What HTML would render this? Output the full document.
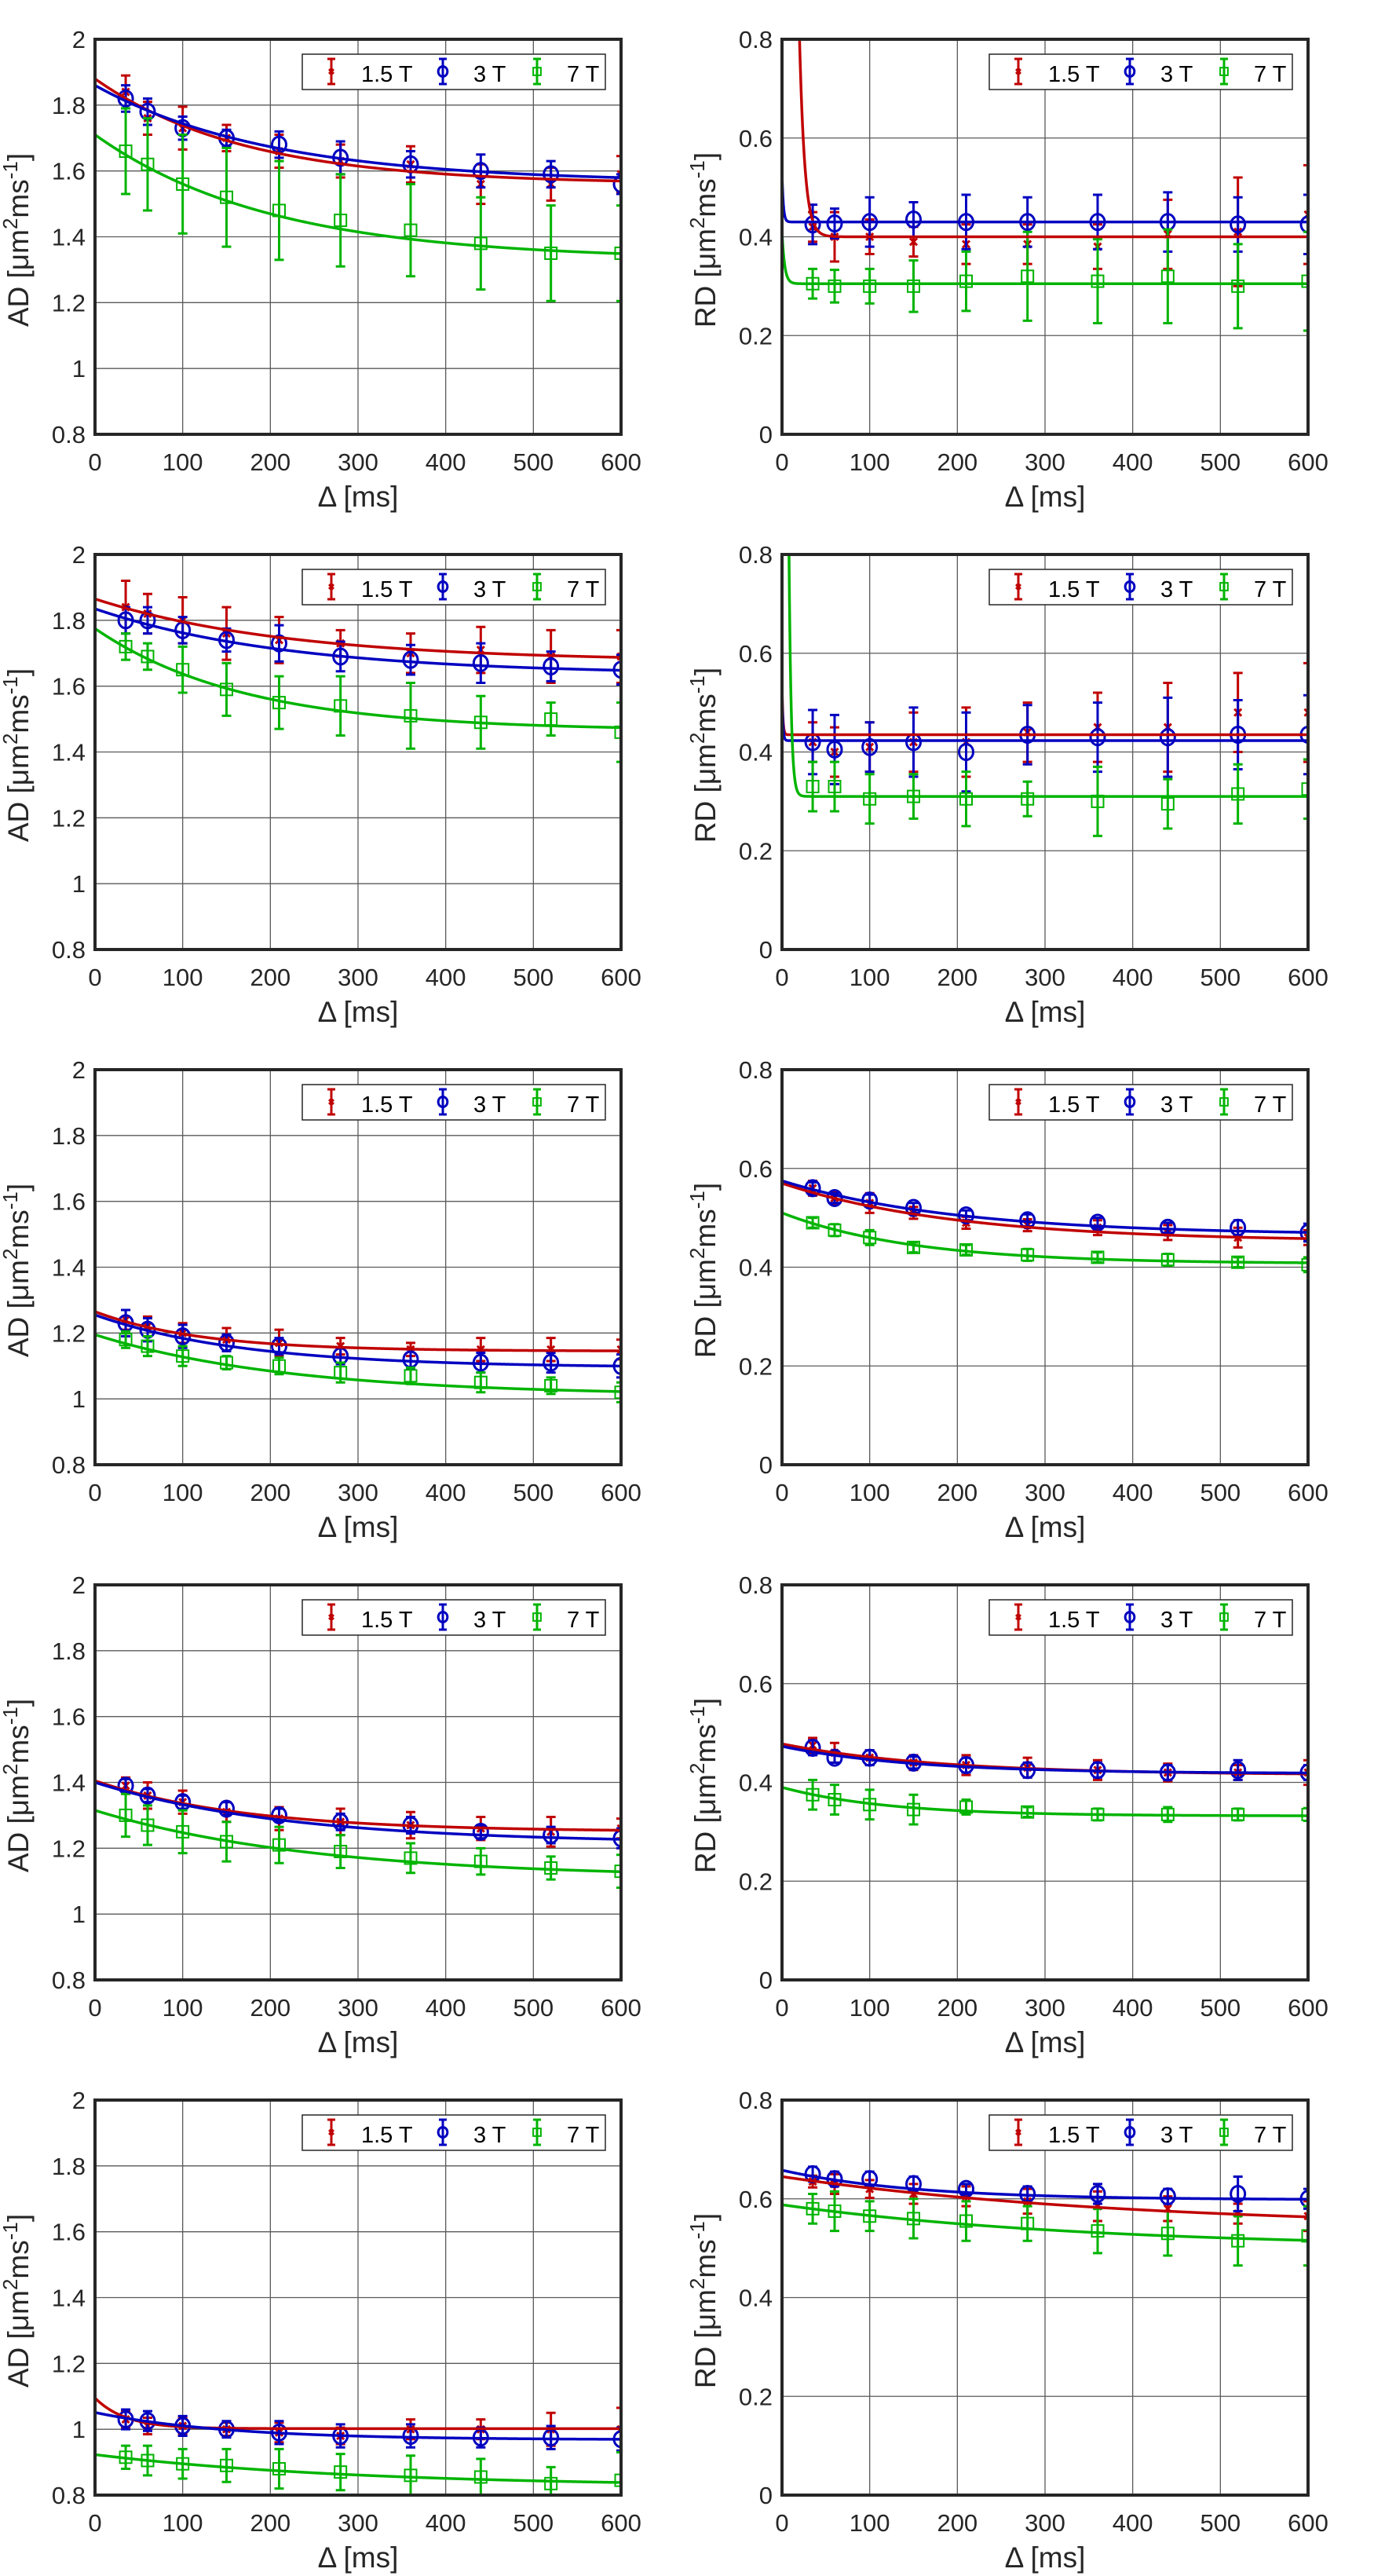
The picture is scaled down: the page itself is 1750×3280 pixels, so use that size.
<!DOCTYPE html>
<html>
<head>
<meta charset="utf-8">
<style>
html,body{margin:0;padding:0;background:#fff;}
svg{display:block;}
text{font-family:"Liberation Sans",Arial,sans-serif;}
</style>
</head>
<body>
<svg id="fig" xmlns="http://www.w3.org/2000/svg" width="1750" height="3280" viewBox="0 0 1750 3280"></svg>
<script>
// ---- shared x data ----
const deltaMs = [35, 60, 100, 150, 210, 280, 360, 440, 520, 600];
const xTicks = [0, 100, 200, 300, 400, 500, 600];
const adTicks = [0.8, 1, 1.2, 1.4, 1.6, 1.8, 2];
const adTickLabels = ["0.8", "1", "1.2", "1.4", "1.6", "1.8", "2"];
const rdTicks = [0, 0.2, 0.4, 0.6, 0.8];
const rdTickLabels = ["0", "0.2", "0.4", "0.6", "0.8"];
const fieldLabels = ["1.5 T", "3 T", "7 T"];

// ---- row 1 ----
const ad1_v15 = [1.84,1.76,1.73,1.70,1.66,1.63,1.62,1.56,1.56,1.59];
const ad1_e15 = [0.05,0.05,0.065,0.04,0.05,0.05,0.055,0.06,0.05,0.055];
const ad1_v3 = [1.82,1.78,1.73,1.70,1.68,1.64,1.62,1.60,1.59,1.56];
const ad1_e3 = [0.04,0.04,0.035,0.025,0.04,0.05,0.04,0.05,0.04,0.03];
const ad1_v7 = [1.66,1.62,1.56,1.52,1.48,1.45,1.42,1.38,1.35,1.35];
const ad1_e7 = [0.13,0.14,0.15,0.15,0.15,0.14,0.14,0.14,0.145,0.145];
const ad1_fit = [[1.56,0.32,170],[1.565,0.295,200],[1.33,0.38,200]];
const rd1_v15 = [0.42,0.40,0.40,0.39,0.385,0.385,0.38,0.405,0.41,0.445];
const rd1_e15 = [0.03,0.05,0.035,0.03,0.04,0.04,0.045,0.07,0.11,0.1];
const rd1_v3 = [0.425,0.427,0.43,0.435,0.43,0.43,0.43,0.43,0.425,0.425];
const rd1_e3 = [0.04,0.03,0.05,0.035,0.055,0.05,0.055,0.06,0.055,0.06];
const rd1_v7 = [0.305,0.30,0.30,0.30,0.31,0.32,0.31,0.32,0.30,0.31];
const rd1_e7 = [0.03,0.033,0.035,0.052,0.06,0.09,0.085,0.095,0.085,0.1];
const rd1_fit = [[0.40,11.2,6],[0.43,0.1,1.5],[0.305,0.105,3]];
// ---- row 2 ----
const ad2_v15 = [1.84,1.82,1.80,1.76,1.74,1.73,1.70,1.71,1.69,1.69];
const ad2_e15 = [0.08,0.06,0.07,0.08,0.07,0.04,0.06,0.07,0.08,0.08];
const ad2_v3 = [1.80,1.80,1.77,1.74,1.73,1.69,1.68,1.67,1.66,1.65];
const ad2_e3 = [0.04,0.04,0.04,0.035,0.055,0.045,0.045,0.06,0.045,0.045];
const ad2_v7 = [1.72,1.69,1.65,1.59,1.55,1.54,1.51,1.49,1.50,1.46];
const ad2_e7 = [0.04,0.04,0.07,0.08,0.08,0.09,0.1,0.08,0.05,0.09];
const ad2_fit = [[1.675,0.19,220],[1.635,0.2,220],[1.465,0.31,170]];
const rd2_v15 = [0.42,0.40,0.41,0.42,0.42,0.44,0.45,0.45,0.48,0.48];
const rd2_e15 = [0.04,0.05,0.05,0.06,0.07,0.06,0.07,0.09,0.08,0.1];
const rd2_v3 = [0.42,0.405,0.41,0.42,0.40,0.435,0.43,0.43,0.435,0.435];
const rd2_e3 = [0.065,0.07,0.05,0.07,0.08,0.06,0.07,0.08,0.07,0.08];
const rd2_v7 = [0.33,0.33,0.305,0.31,0.305,0.305,0.30,0.295,0.315,0.325];
const rd2_e7 = [0.05,0.05,0.05,0.045,0.055,0.035,0.07,0.05,0.06,0.06];
const rd2_fit = [[0.435,0.1,1],[0.423,0.1,1],[0.31,12,2.5]];
// ---- row 3 ----
const ad3_v15 = [1.24,1.22,1.20,1.18,1.17,1.16,1.15,1.15,1.15,1.15];
const ad3_e15 = [0.03,0.03,0.03,0.035,0.04,0.025,0.02,0.035,0.035,0.03];
const ad3_v3 = [1.23,1.21,1.19,1.17,1.16,1.13,1.12,1.11,1.11,1.10];
const ad3_e3 = [0.04,0.035,0.035,0.025,0.025,0.025,0.03,0.03,0.03,0.035];
const ad3_v7 = [1.18,1.16,1.13,1.11,1.10,1.08,1.07,1.05,1.04,1.02];
const ad3_e7 = [0.025,0.03,0.03,0.02,0.025,0.03,0.025,0.03,0.025,0.03];
const ad3_fit = [[1.145,0.12,120],[1.095,0.16,170],[1.01,0.185,220]];
const rd3_v15 = [0.56,0.54,0.53,0.51,0.49,0.485,0.48,0.47,0.46,0.46];
const rd3_e15 = [0.015,0.012,0.02,0.012,0.012,0.012,0.015,0.015,0.02,0.015];
const rd3_v3 = [0.56,0.54,0.535,0.52,0.505,0.495,0.49,0.48,0.48,0.47];
const rd3_e3 = [0.012,0.01,0.012,0.01,0.01,0.012,0.01,0.01,0.015,0.018];
const rd3_v7 = [0.49,0.475,0.46,0.44,0.435,0.425,0.42,0.415,0.41,0.405];
const rd3_e7 = [0.01,0.012,0.015,0.01,0.01,0.012,0.01,0.012,0.01,0.015];
const rd3_fit = [[0.452,0.118,200],[0.465,0.11,200],[0.407,0.103,150]];
// ---- row 4 ----
const ad4_v15 = [1.39,1.36,1.34,1.31,1.29,1.28,1.27,1.26,1.25,1.26];
const ad4_e15 = [0.025,0.04,0.035,0.03,0.035,0.04,0.04,0.035,0.045,0.03];
const ad4_v3 = [1.39,1.36,1.34,1.32,1.30,1.28,1.27,1.25,1.24,1.23];
const ad4_e3 = [0.02,0.02,0.02,0.02,0.02,0.025,0.025,0.02,0.025,0.03];
const ad4_v7 = [1.30,1.27,1.25,1.22,1.21,1.19,1.17,1.16,1.14,1.13];
const ad4_e7 = [0.065,0.06,0.065,0.06,0.055,0.05,0.045,0.04,0.035,0.05];
const ad4_fit = [[1.25,0.155,170],[1.215,0.185,220],[1.11,0.205,250]];
const rd4_v15 = [0.475,0.46,0.45,0.44,0.435,0.43,0.425,0.42,0.42,0.42];
const rd4_e15 = [0.015,0.02,0.015,0.015,0.02,0.02,0.02,0.018,0.015,0.025];
const rd4_v3 = [0.47,0.45,0.45,0.44,0.435,0.425,0.425,0.42,0.425,0.42];
const rd4_e3 = [0.015,0.01,0.015,0.012,0.015,0.015,0.015,0.015,0.02,0.015];
const rd4_v7 = [0.375,0.365,0.355,0.345,0.35,0.34,0.335,0.335,0.335,0.335];
const rd4_e7 = [0.03,0.03,0.03,0.03,0.015,0.01,0.012,0.015,0.012,0.013];
const rd4_fit = [[0.415,0.063,180],[0.418,0.055,150],[0.332,0.058,120]];
// ---- row 5 ----
const ad5_v15 = [1.03,1.01,1.01,1.00,0.99,0.98,1.00,1.00,1.00,1.00];
const ad5_e15 = [0.025,0.025,0.025,0.02,0.03,0.025,0.03,0.03,0.05,0.065];
const ad5_v3 = [1.03,1.025,1.01,1.00,0.99,0.98,0.98,0.975,0.975,0.97];
const ad5_e3 = [0.03,0.03,0.03,0.025,0.035,0.035,0.035,0.03,0.035,0.035];
const ad5_v7 = [0.915,0.905,0.895,0.89,0.88,0.87,0.86,0.855,0.835,0.845];
const ad5_e7 = [0.035,0.045,0.045,0.05,0.06,0.055,0.06,0.055,0.05,0.085];
const ad5_fit = [[1.002,0.093,35],[0.968,0.083,150],[0.825,0.098,300]];
const rd5_v15 = [0.635,0.63,0.62,0.61,0.605,0.595,0.585,0.58,0.57,0.565];
const rd5_e15 = [0.012,0.02,0.018,0.02,0.02,0.025,0.03,0.025,0.02,0.03];
const rd5_v3 = [0.65,0.64,0.64,0.63,0.62,0.61,0.61,0.605,0.61,0.60];
const rd5_e3 = [0.015,0.015,0.015,0.015,0.01,0.015,0.02,0.015,0.035,0.02];
const rd5_v7 = [0.58,0.575,0.565,0.56,0.555,0.55,0.535,0.53,0.515,0.525];
const rd5_e7 = [0.03,0.04,0.03,0.04,0.04,0.035,0.045,0.045,0.05,0.06];
const rd5_fit = [[0.54,0.105,400],[0.598,0.06,150],[0.50,0.088,350]];

const panels = [
 {kind:"AD",row:0,col:0,v:[ad1_v15,ad1_v3,ad1_v7],e:[ad1_e15,ad1_e3,ad1_e7],fit:ad1_fit},
 {kind:"RD",row:0,col:1,v:[rd1_v15,rd1_v3,rd1_v7],e:[rd1_e15,rd1_e3,rd1_e7],fit:rd1_fit},
 {kind:"AD",row:1,col:0,v:[ad2_v15,ad2_v3,ad2_v7],e:[ad2_e15,ad2_e3,ad2_e7],fit:ad2_fit},
 {kind:"RD",row:1,col:1,v:[rd2_v15,rd2_v3,rd2_v7],e:[rd2_e15,rd2_e3,rd2_e7],fit:rd2_fit},
 {kind:"AD",row:2,col:0,v:[ad3_v15,ad3_v3,ad3_v7],e:[ad3_e15,ad3_e3,ad3_e7],fit:ad3_fit},
 {kind:"RD",row:2,col:1,v:[rd3_v15,rd3_v3,rd3_v7],e:[rd3_e15,rd3_e3,rd3_e7],fit:rd3_fit},
 {kind:"AD",row:3,col:0,v:[ad4_v15,ad4_v3,ad4_v7],e:[ad4_e15,ad4_e3,ad4_e7],fit:ad4_fit},
 {kind:"RD",row:3,col:1,v:[rd4_v15,rd4_v3,rd4_v7],e:[rd4_e15,rd4_e3,rd4_e7],fit:rd4_fit},
 {kind:"AD",row:4,col:0,v:[ad5_v15,ad5_v3,ad5_v7],e:[ad5_e15,ad5_e3,ad5_e7],fit:ad5_fit},
 {kind:"RD",row:4,col:1,v:[rd5_v15,rd5_v3,rd5_v7],e:[rd5_e15,rd5_e3,rd5_e7],fit:rd5_fit}
];

const NS = "http://www.w3.org/2000/svg";
const svg = document.getElementById("fig");
const colors = ["#c00000", "#0000c0", "#00b400"];
const seriesNames = ["1-5t", "3t", "7t"];
const PW = 670, PH = 503, ROWP = 656, TOP0 = 50, LEFTS = [121, 996];

function mk(tag, attrs, parent) {
  const el = document.createElementNS(NS, tag);
  for (const k in attrs) el.setAttribute(k, attrs[k]);
  (parent || svg).appendChild(el);
  return el;
}

function drawMarker(g, kind, cx, cy, color, s) {
  if (kind === 0) {
    const d = 4.5 * s;
    const m = mk("path", {d:`M${cx-d},${cy-d}L${cx+d},${cy+d}M${cx-d},${cy+d}L${cx+d},${cy-d}`, stroke:color, "stroke-width":3, fill:"none"}, g);
    
    
  } else if (kind === 1) {
    const m = mk("ellipse", {cx:cx, cy:cy, rx:9*s, ry:10*s, stroke:color, "stroke-width":3, fill:"none"}, g);
    
    
  } else {
    const h = 7.5 * s;
    const m = mk("rect", {x:cx-h, y:cy-h, width:2*h, height:2*h, stroke:color, "stroke-width":2, fill:"none"}, g);
    
    
  }
}

panels.forEach((p, pi) => {
  const L = LEFTS[p.col], T = TOP0 + p.row * ROWP, R = L + PW, B = T + PH;
  const ymin = p.kind === "AD" ? 0.8 : 0;
  const ymax = p.kind === "AD" ? 2 : 0.8;
  const xs = v => L + v / 600 * PW;
  const ys = v => B - (v - ymin) / (ymax - ymin) * PH;
  const g = mk("g", {});
  
  

  // clip
  const cp = mk("clipPath", {id:"clip" + pi}, g);
  mk("rect", {x:L, y:T, width:PW, height:PH}, cp);

  // grid
  const grid = mk("g", {stroke:"#5a5a5a", "stroke-width":1.3}, g);
  
  
  xTicks.forEach(t => { if (t > 0 && t < 600) mk("line", {x1:xs(t), x2:xs(t), y1:T, y2:B}, grid); });
  const yt = p.kind === "AD" ? adTicks : rdTicks;
  const ytl = p.kind === "AD" ? adTickLabels : rdTickLabels;
  yt.forEach(t => { if (t > ymin + 1e-9 && t < ymax - 1e-9) mk("line", {x1:L, x2:R, y1:ys(t), y2:ys(t)}, grid); });

  // tick labels
  xTicks.forEach(t => {
    const tx = mk("text", {x:xs(t), y:B + 46, "font-size":31, fill:"#262626", "text-anchor":"middle"}, g);
    tx.textContent = String(t);
    
    
  });
  yt.forEach((t, i) => {
    const tx = mk("text", {x:L - 12, y:ys(t) + 11, "font-size":31, fill:"#262626", "text-anchor":"end"}, g);
    tx.textContent = ytl[i];
    
    
  });

  // axis titles
  const xt = mk("text", {x:L + PW/2, y:B + 92, "font-size":37, fill:"#262626", "text-anchor":"middle"}, g);
  xt.textContent = "Δ [ms]";
  
  
  const ytt = mk("text", {x:0, y:0, "font-size":37, fill:"#262626", "text-anchor":"middle", transform:`translate(${L-85},${T+PH/2+4}) rotate(-90)`}, g);
  ytt.innerHTML = `${p.kind} [μm<tspan dy="-14" font-size="26">2</tspan><tspan dy="14">ms</tspan><tspan dy="-14" font-size="26">-1</tspan><tspan dy="14">]</tspan>`;
  
  

  // data
  const dg = mk("g", {"clip-path":`url(#clip${pi})`}, g);
  [0,1,2].forEach(s => {
    const sg = mk("g", {}, dg);
    
    
    const col = colors[s];
    deltaMs.forEach((d, i) => {
      const v = p.v[s][i], e = p.e[s][i];
      const x = xs(d), y1 = ys(v - e), y2 = ys(v + e);
      const eb = mk("path", {d:`M${x},${y1}L${x},${y2}M${x-6},${y1}L${x+6},${y1}M${x-6},${y2}L${x+6},${y2}`, stroke:col, "stroke-width":3, fill:"none"}, sg);
      
      
      drawMarker(sg, s, x, ys(v), col, 1);
    });
  });
  [0,1,2].forEach(s => {
    const [inf, amp, tau] = p.fit[s];
    let d = "";
    for (let t = 0; t <= 600; t += 0.5) {
      let y = ys(inf + amp * Math.exp(-t / tau));
      if (y < T - 50) y = T - 50;
      d += (t === 0 ? "M" : "L") + xs(t).toFixed(2) + "," + y.toFixed(2);
    }
    const fl = mk("path", {d:d, stroke:colors[s], "stroke-width":3.5, fill:"none"}, dg);
    
    
  });

  // axes box
  const box = mk("rect", {x:L, y:T, width:PW, height:PH, fill:"none", stroke:"#262626", "stroke-width":4}, g);
  
  

  // legend
  const lg = mk("g", {}, g);
  
  
  mk("rect", {x:L + 264, y:T + 19, width:386, height:45, fill:"#fff", stroke:"#262626", "stroke-width":1.5}, lg);
  const iconX = [301, 443, 563];
  const textX = [339, 482, 601];
  [0,1,2].forEach(s => {
    const eg = mk("g", {}, lg);
    
    
    const x = L + iconX[s], ya = T + 25, yb = T + 57, yc = T + 41;
    mk("path", {d:`M${x},${ya}L${x},${yb}M${x-5},${ya}L${x+5},${ya}M${x-5},${yb}L${x+5},${yb}`, stroke:colors[s], "stroke-width":3, fill:"none"}, eg);
    drawMarker(eg, s, x, yc, colors[s], 0.65);
    const tx = mk("text", {x:L + textX[s], y:T + 54, "font-size":29, fill:"#000"}, eg);
    tx.textContent = fieldLabels[s];
  });
});
</script>
</body>
</html>
